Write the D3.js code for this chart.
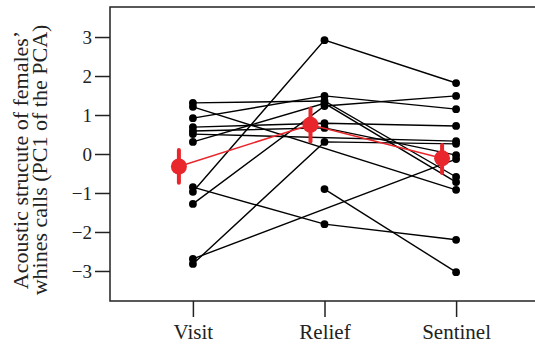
<!DOCTYPE html>
<html>
<head>
<meta charset="utf-8">
<script src="https://cdn.jsdelivr.net/npm/d3@7"></script>
<style>
  body { margin: 0; background: #fff; }
  svg { display: block; }
  text { font-family: "Liberation Serif", "DejaVu Serif", serif; }
</style>
</head>
<body>
<svg></svg>
<script>
var width = 535,
    height = 350;
var svg = d3.select("svg")
    .attr("width", width)
    .attr("height", height);

var categories = ["Visit", "Relief", "Sentinel"];
var visit    = [-0.97, -0.85, null, -2.82, -2.69,  1.21, -1.28,  1.31, 0.92, 0.69,  0.59, 0.51,  0.31];
var relief   = [ 2.92, -1.80, -0.90, 0.31,  null,  null,  1.23,  1.36, 1.49, 0.79,  0.67, null,  1.30];
var sentinel = [ 1.82, -2.20, -3.03, 0.26, -0.13, -0.92,  1.49, -0.59, 1.15, 0.72, -0.03, 0.33, -0.72];

// group means with error bars
var meanValues = [-0.32, 0.75, -0.11];
var errLow  = [-0.74, 0.32, -0.49];
var errHigh = [ 0.10, 1.17,  0.23];

var yTicks = [-3, -2, -1, 0, 1, 2, 3];

var box = {left: 110, top: 7, right: 539, bottom: 301};

var x = d3.scalePoint()
    .domain(categories)
    .range([box.left, box.right])
    .padding(0.63);
var y = d3.scaleLinear()
    .domain([-3.77, 3.77])
    .range([box.bottom, box.top]);

var meanShift = -14;
var font = "Liberation Serif";

var individuals = visit.map((v, i) => [v, relief[i], sentinel[i]]);

var line = d3.line()
    .x(d => x(d.c))
    .y(d => y(d.v));

// individual lines (skip missing points, connect what is left)
svg.append("g").selectAll("path")
    .data(individuals)
    .enter()
    .append("path")
    .attr("d", d => line(d.map((v, j) => ({c: categories[j], v: v})).filter(p => p.v != null)))
    .attr("fill", "none")
    .attr("stroke", "#000")
    .attr("stroke-width", 1.4);

var pts = [];
individuals.forEach(d => d.forEach((v, j) => { if (v != null) pts.push({c: categories[j], v: v}); }));
svg.append("g").selectAll("circle")
    .data(pts)
    .enter()
    .append("circle")
    .attr("cx", d => x(d.c))
    .attr("cy", d => y(d.v))
    .attr("r", 3.9)
    .attr("fill", "#000");

// means
var red = "#e8262b";
var means = categories.map((c, i) => ({c: c, v: meanValues[i], lo: errLow[i], hi: errHigh[i]}));
svg.append("path")
    .datum(means)
    .attr("d", d3.line().x(d => x(d.c) + meanShift).y(d => y(d.v)))
    .attr("fill", "none")
    .attr("stroke", red)
    .attr("stroke-width", 1.6);
svg.append("g").selectAll("line")
    .data(means)
    .enter()
    .append("line")
    .attr("x1", d => x(d.c) + meanShift)
    .attr("x2", d => x(d.c) + meanShift)
    .attr("y1", d => y(d.lo))
    .attr("y2", d => y(d.hi))
    .attr("stroke", red)
    .attr("stroke-width", 4)
    .attr("stroke-linecap", "round");
svg.append("g").selectAll("circle")
    .data(means)
    .enter()
    .append("circle")
    .attr("cx", d => x(d.c) + meanShift)
    .attr("cy", d => y(d.v))
    .attr("r", 8)
    .attr("fill", red);

// box
svg.append("rect")
    .attr("x", box.left)
    .attr("y", box.top)
    .attr("width", box.right - box.left)
    .attr("height", box.bottom - box.top)
    .attr("fill", "none")
    .attr("stroke", "#222")
    .attr("stroke-width", 1.5);

// axes
var yAxis = svg.append("g")
    .attr("transform", "translate(" + box.left + ",0)")
    .call(d3.axisLeft(y).tickValues(yTicks).tickSize(15).tickPadding(3));
var xAxis = svg.append("g")
    .attr("transform", "translate(0," + box.bottom + ")")
    .call(d3.axisBottom(x).tickSize(16).tickPadding(7));
[yAxis, xAxis].forEach(g => {
    g.attr("font-family", font);
    g.select(".domain").remove();
    g.selectAll(".tick line").attr("stroke", "#222").attr("stroke-width", 1.5);
    g.selectAll("text").attr("fill", "#222");
});
yAxis.attr("font-size", 19);
xAxis.attr("font-size", 21);

// y title, two lines
var titleLines = ["Acoustic strucute of females\u2019", "whines calls (PC1 of the PCA)"];
svg.append("g")
    .attr("font-family", font)
    .attr("font-size", 22)
    .selectAll("text")
    .data(titleLines)
    .enter()
    .append("text")
    .attr("transform", (d, i) => "translate(" + (28 + i * 19) + ",160) rotate(-90)")
    .attr("text-anchor", "middle")
    .attr("fill", "#222")
    .text(d => d);
</script>
</body>
</html>
